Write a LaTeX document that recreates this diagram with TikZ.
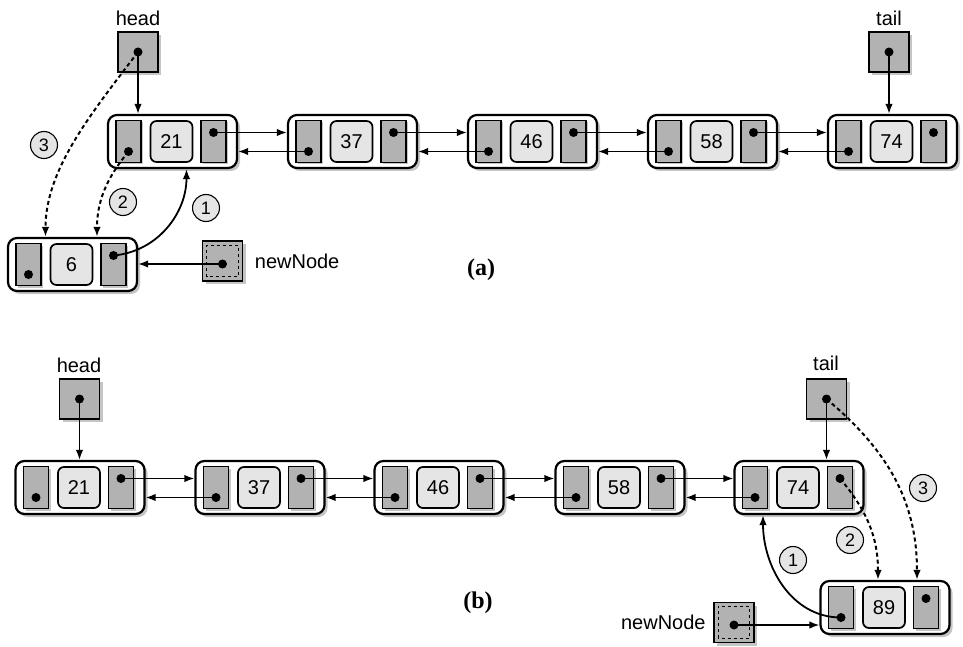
\documentclass[tikz,border=0pt]{standalone}
\usepackage{fontspec}
\setmainfont{Liberation Sans}
\newfontfamily\capfont{Liberation Serif}
\usetikzlibrary{arrows.meta,calc,positioning,shadows}

\tikzset{
  listbox/.style={draw, line width=2.2pt, rounded corners=9pt, fill=white,
    minimum width=129pt, minimum height=53pt, inner sep=0pt,
    drop shadow={shadow xshift=3pt, shadow yshift=-3pt, fill=black!45}},
  cell/.style={draw, line width=1.7pt, fill=black!30, minimum width=25pt,
    minimum height=42pt, inner sep=0pt,
    drop shadow={shadow xshift=2pt, shadow yshift=-2pt, fill=black!45}},
  valbox/.style={draw, line width=1.7pt, rounded corners=6pt, fill=black!10,
    minimum width=42pt, minimum height=41pt, inner sep=0pt},
  ptrbox/.style={draw, line width=1.7pt, fill=black!30, minimum size=40pt,
    inner sep=0pt, drop shadow={shadow xshift=3pt, shadow yshift=-3pt, fill=black!45}},
  dot/.style={circle, fill=black, inner sep=0pt, minimum size=9pt},
  link/.style={line width=1.8pt, -{Latex[length=10pt,width=7.5pt]}},
  newlink/.style={link, line width=2pt, dash pattern=on 4pt off 3pt},
  stepnum/.style={circle, draw, line width=1.1pt, fill=black!10, minimum size=27pt,
    inner sep=0pt, font=\fontsize{18}{20}\selectfont},
  caption/.style={font=\capfont\bfseries\fontsize{24}{28}\selectfont},
}

% one list node: name, x, y, value
\newcommand{\listnode}[4]{%
  \node[listbox] (#1) at (#2,#3) {};
  \node[cell] (#1-prev) at ($(#1)+(-44,0)$) {};
  \node[valbox] (#1-val) at ($(#1)+(-1,0)$) {#4};
  \node[cell] (#1-next) at ($(#1)+(41,0)$) {};
  \node[dot] (#1-pd) at ($(#1-prev)+(0,-10)$) {};
  \node[dot] (#1-nd) at ($(#1-next)+(0,9)$) {};
}

\begin{document}
\begin{tikzpicture}[x=1pt, y=1pt, every node/.style={font=\fontsize{20}{24}\selectfont}]
  \useasboundingbox (0,0) rectangle (963,-647);

  % (a) list
  \listnode{a21}{172.5}{-141.5}{21}
  \listnode{a37}{352.5}{-141.5}{37}
  \listnode{a46}{532.5}{-141.5}{46}
  \listnode{a58}{712.5}{-141.5}{58}
  \listnode{a74}{892.5}{-141.5}{74}
  \listnode{a6}{72.5}{-264.5}{6}

  % (b) list
  \listnode{b21}{80}{-487.5}{21}
  \listnode{b37}{260}{-487.5}{37}
  \listnode{b46}{439}{-487.5}{46}
  \listnode{b58}{620}{-487.5}{58}
  \listnode{b74}{799}{-487.5}{74}
  \listnode{b89}{885}{-607.5}{89}

  \foreach \l/\r in {a21/a37, a37/a46, a46/a58, a58/a74,
                     b21/b37, b37/b46, b46/b58, b58/b74} {
    \draw[link] (\l-nd.center) -- (\l-nd.center -| \r.west);
    \draw[link] (\r-pd.center) -- (\r-pd.center -| \l.east);
  }

  % head, tail and newNode pointers
  \node[ptrbox] (ha) at (138,-52) {};
  \node[dot] (ha-d) at (ha) {};
  \node at (138,-18) {head};
  \node[ptrbox] (ta) at (889,-52) {};
  \node[dot] (ta-d) at (ta) {};
  \node at (889,-18) {tail};
  \node[ptrbox] (na) at (222.5,-261) {};
  \draw[line width=1pt, dashed] ($(na.south west)+(5,5)$) rectangle ($(na.north east)+(-5,-5)$);
  \node[dot] (na-d) at ($(na)+(0,-3)$) {};
  \node[right=8pt of na] {newNode};

  \node[ptrbox] (hb) at (79.5,-399) {};
  \node[dot] (hb-d) at (hb) {};
  \node at (79,-365) {head};
  \node[ptrbox] (tb) at (826.5,-399) {};
  \node[dot] (tb-d) at (tb) {};
  \node at (826,-363) {tail};
  \node[ptrbox] (nb) at (734,-622.5) {};
  \draw[line width=1pt, dashed] ($(nb.south west)+(5,5)$) rectangle ($(nb.north east)+(-5,-5)$);
  \node[dot] (nb-d) at ($(nb)+(0,-2.5)$) {};
  \node[left=4pt of nb] {newNode};

  \draw[link] (ha-d.center) -- (ha-d.center |- a21.north);
  \draw[link] (ta-d.center) -- (ta-d.center |- a74.north);
  \draw[link] (na-d.center) -- (na-d.center -| a6.east);
  \draw[link] (hb-d.center) -- (hb-d.center |- b21.north);
  \draw[link] (tb-d.center) -- (tb-d.center |- b74.north);
  \draw[link] (nb-d.center) -- (nb-d.center -| b89.west);

  % (a) steps
  \draw[link] (a6-nd.center) to[out=5, in=-90] ([xshift=14pt]a21.south);
  \draw[newlink] (a21-pd.center) .. controls (112,-172) and (97,-195) .. ([xshift=24.5pt]a6.north);
  \draw[newlink] (ha-d.center) .. controls (90,-115) and (45.5,-170) .. ([xshift=-27pt]a6.north);
  \node[stepnum] (sa1) at (206,-208) {1};
  \node[stepnum] (sa2) at (123,-202) {2};
  \node[stepnum] (sa3) at (44,-145) {3};

  % (b) steps
  \draw[link] (b89-pd.center) to[out=180, in=-90] ([xshift=-36pt]b74.south);
  \draw[newlink] (b74-nd.center) to[out=-50, in=90] ([xshift=-7pt]b89.north);
  \draw[newlink] (tb-d.center) to[out=-40, in=90] ([xshift=32pt]b89.north);
  \node[stepnum] (sb1) at (793,-560) {1};
  \node[stepnum] (sb2) at (850,-540) {2};
  \node[stepnum] (sb3) at (923,-488) {3};

  \node[caption] at (481,-270) {(a)};
  \node[caption] at (478,-603) {(b)};
\end{tikzpicture}
\end{document}
